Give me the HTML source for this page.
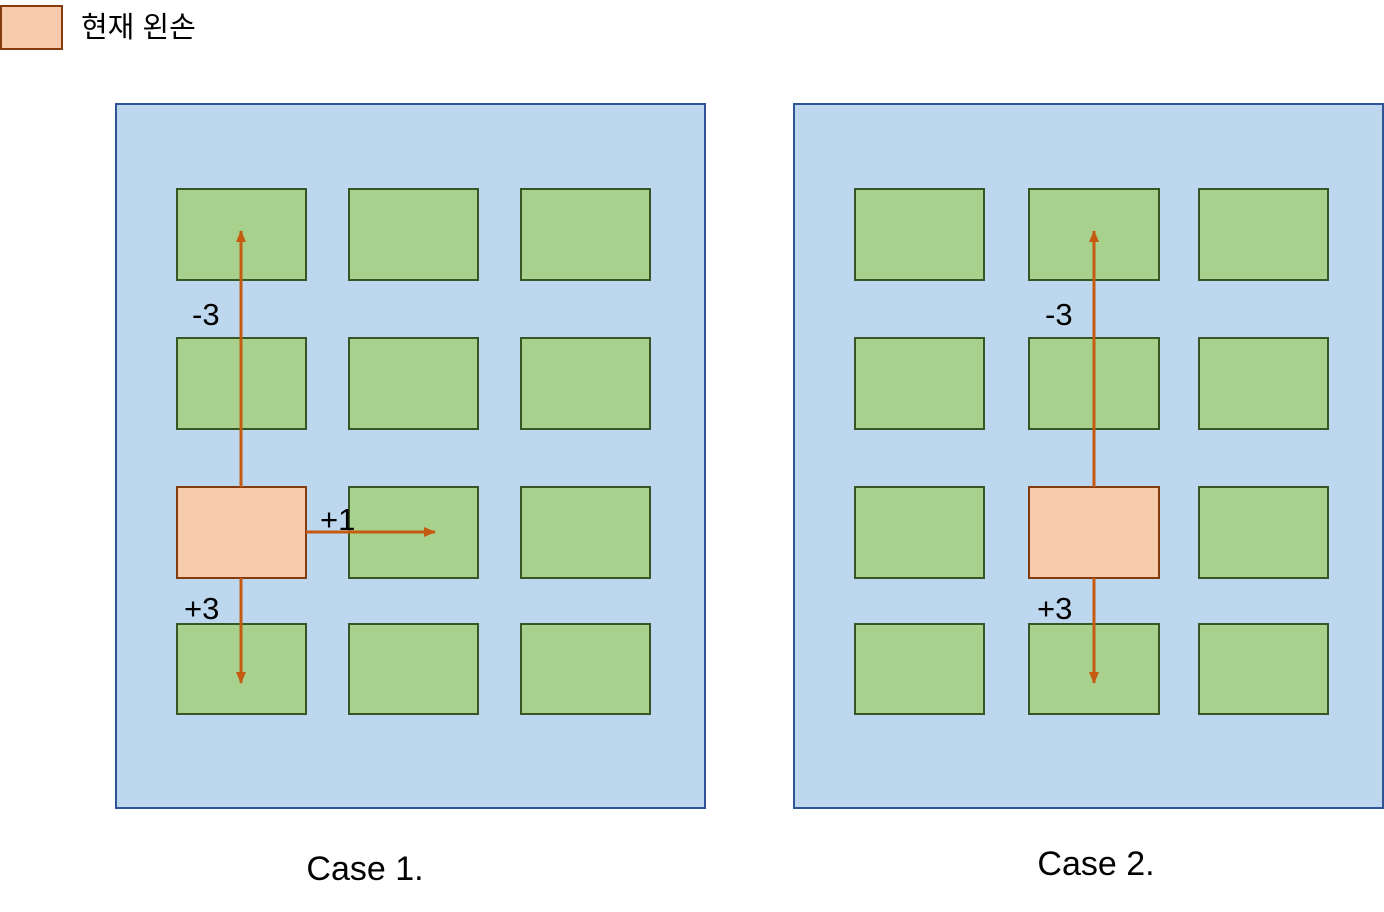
<!DOCTYPE html>
<html><head><meta charset="utf-8"><style>
html,body{margin:0;padding:0;background:#fff;}
svg{display:block;}
text{font-family:"Liberation Sans","Noto Sans CJK KR",sans-serif;fill:#000;}
</style></head><body>
<svg width="1384" height="912" viewBox="0 0 1384 912" xmlns="http://www.w3.org/2000/svg">
<defs>
<marker id="ah" markerWidth="12" markerHeight="10" refX="11" refY="5" orient="auto" markerUnits="userSpaceOnUse">
<path d="M0,0 L12,5 L0,10 Z" fill="#c55a11"/>
</marker>
</defs>
<rect x="1" y="6" width="61" height="43" fill="#f8cbad" stroke="#843c0c" stroke-width="2"/>
<text x="81" y="37" font-size="29">현재 왼손</text>

<rect x="116" y="104" width="589" height="704" fill="#bdd7ee" stroke="#2f5597" stroke-width="2"/>
<rect x="794" y="104" width="589" height="704" fill="#bdd7ee" stroke="#2f5597" stroke-width="2"/>

<g fill="#a9d18e" stroke="#375623" stroke-width="2">
<rect x="177" y="189" width="129" height="91"/><rect x="349" y="189" width="129" height="91"/><rect x="521" y="189" width="129" height="91"/>
<rect x="177" y="338" width="129" height="91"/><rect x="349" y="338" width="129" height="91"/><rect x="521" y="338" width="129" height="91"/>
<rect x="349" y="487" width="129" height="91"/><rect x="521" y="487" width="129" height="91"/>
<rect x="177" y="624" width="129" height="90"/><rect x="349" y="624" width="129" height="90"/><rect x="521" y="624" width="129" height="90"/>

<rect x="855" y="189" width="129" height="91"/><rect x="1029" y="189" width="130" height="91"/><rect x="1199" y="189" width="129" height="91"/>
<rect x="855" y="338" width="129" height="91"/><rect x="1029" y="338" width="130" height="91"/><rect x="1199" y="338" width="129" height="91"/>
<rect x="855" y="487" width="129" height="91"/><rect x="1199" y="487" width="129" height="91"/>
<rect x="855" y="624" width="129" height="90"/><rect x="1029" y="624" width="130" height="90"/><rect x="1199" y="624" width="129" height="90"/>
</g>
<rect x="177" y="487" width="129" height="91" fill="#f8cbad" stroke="#843c0c" stroke-width="2"/>
<rect x="1029" y="487" width="130" height="91" fill="#f8cbad" stroke="#843c0c" stroke-width="2"/>

<g stroke="#c55a11" stroke-width="3" fill="none">
<line x1="241" y1="487" x2="241" y2="231" marker-end="url(#ah)"/>
<line x1="241" y1="578" x2="241" y2="683" marker-end="url(#ah)"/>
<line x1="306" y1="532" x2="435" y2="532" marker-end="url(#ah)"/>
<line x1="1094" y1="487" x2="1094" y2="231" marker-end="url(#ah)"/>
<line x1="1094" y1="578" x2="1094" y2="683" marker-end="url(#ah)"/>
</g>

<text x="192" y="325" font-size="31">-3</text>
<text x="320" y="530" font-size="31">+1</text>
<text x="184" y="619" font-size="31">+3</text>
<text x="1045" y="325" font-size="31">-3</text>
<text x="1037" y="619" font-size="31">+3</text>

<text x="365" y="880" font-size="34" text-anchor="middle">Case 1.</text>
<text x="1096" y="875" font-size="34" text-anchor="middle">Case 2.</text>
</svg>
</body></html>
